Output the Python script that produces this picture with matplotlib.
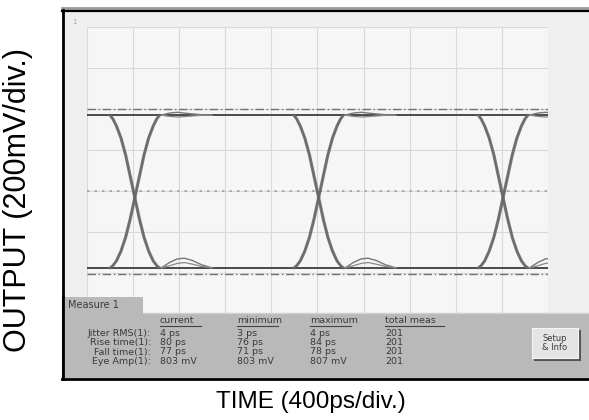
import matplotlib.pyplot as plt
from matplotlib.patches import Rectangle

# scope settings (ps / mV)
t_max = 4000
t_div = 400
v_max = 800
v_div = 200

# levels
high_level = 370
low_level = -375
high_marker = 400
low_marker = -405

# eye crossings (ps)
crossings = [415, 2010, 3610]

# falling edge shape around a crossing: time offset (ps) and fraction of swing
edge_dt = [-215, -190, -160, -120, -80, -40, 0, 40, 80, 120, 160, 190, 215]
edge_frac = [1.0, 0.975, 0.93, 0.85, 0.74, 0.60, 0.46, 0.32, 0.20, 0.11, 0.045, 0.015, 0.0]

# ringing after an edge, offsets from crossing (ps) and height (mV)
ring_dt = [230, 300, 370, 430, 500, 580, 670]
ring_low_a = [0, 26, 44, 47, 36, 15, 0]
ring_low_b = [0, 10, 22, 26, 18, 7, 0]
ring_high_a = [0, 10, 14, 10, 6, 2, 0]
ring_high_b = [0, -6, -9, -7, -4, -1, 0]

# measurement panel
col_heads = ['current', 'minimum', 'maximum', 'total meas']
row_names = ['Jitter RMS(1):', 'Rise time(1):', 'Fall time(1):', 'Eye Amp(1):']
row_values = [
    ['4 ps', '3 ps', '4 ps', '201'],
    ['80 ps', '76 ps', '84 ps', '201'],
    ['77 ps', '71 ps', '78 ps', '201'],
    ['803 mV', '803 mV', '807 mV', '201'],
]

W, H = 589, 420
fig = plt.figure(figsize=(W / 100, H / 100), dpi=100)
fig.patch.set_facecolor('white')

# background / frame layer in pixel units
bg = fig.add_axes([0, 0, 1, 1], zorder=0)
bg.set_xlim(0, W)
bg.set_ylim(H, 0)
bg.axis('off')
bg.add_patch(Rectangle((62, 10), W - 62, 368, facecolor='#efefef', edgecolor='none'))
bg.plot([62, W], [8, 8], color='#999999', lw=2)
bg.plot([62, W], [10.5, 10.5], color='black', lw=1.6)
bg.plot([62.5, 62.5], [10, 379], color='black', lw=2)
bg.text(72, 22, '1', fontsize=5, color='#aaaaaa', ha='left', va='center')

# scope screen
ax = fig.add_axes([87 / W, (H - 355) / H, 461 / W, 328 / H], zorder=1)
ax.set_facecolor('#f6f6f6')
ax.set_xlim(0, t_max)
ax.set_ylim(-v_max, v_max)
ax.set_xticks(range(0, t_max + 1, t_div))
ax.set_yticks(range(-v_max, v_max + 1, v_div))
ax.grid(True, color='#d9d9d9', lw=0.8)
ax.tick_params(length=0, labelbottom=False, labelleft=False)
for s in ax.spines.values():
    s.set_visible(False)
ax.axhline(0, color='#a0a0a0', lw=1.2, ls=(0, (1.5, 3)))

trace = '#666666'
swing = high_level - low_level

# flat levels and markers
ax.axhline(high_level, color='#4a4a4a', lw=1.4)
ax.axhline(low_level, color='#4a4a4a', lw=1.4)
ax.axhline(high_marker, color='#707070', lw=1.0, ls=(0, (6, 2, 1, 2)))
ax.axhline(low_marker, color='#707070', lw=1.0, ls=(0, (6, 2, 1, 2)))

fall_y = [low_level + f * swing for f in edge_frac]
for c in crossings:
    for off in (-4, 4):
        ax.plot([c + d + off for d in edge_dt], fall_y, color=trace, lw=1.6, alpha=0.85)
        ax.plot([c - d + off for d in edge_dt], fall_y, color=trace, lw=1.6, alpha=0.85)
    rx = [c + d for d in ring_dt]
    ax.plot(rx, [low_level + v for v in ring_low_a], color='#777777', lw=1.0)
    ax.plot(rx, [low_level + v for v in ring_low_b], color='#888888', lw=0.9)
    ax.plot(rx, [high_level + v for v in ring_high_a], color='#777777', lw=1.0)
    ax.plot(rx, [high_level + v for v in ring_high_b], color='#888888', lw=0.9)

# measurement panel on top
fg = fig.add_axes([0, 0, 1, 1], zorder=3)
fg.patch.set_alpha(0)
fg.set_xlim(0, W)
fg.set_ylim(H, 0)
fg.axis('off')
panel = '#b9b9b9'
txt = '#3a3a3a'
fg.add_patch(Rectangle((63, 297), 80, 17, facecolor=panel, edgecolor='none'))
fg.add_patch(Rectangle((63, 313), W - 63, 65, facecolor=panel, edgecolor='none'))
fg.plot([143, W], [313, 313], color='#d0d0d0', lw=1)
fg.plot([62, W], [378.5, 378.5], color='black', lw=2)
fg.plot([62.5, 62.5], [296, 379], color='black', lw=2)
fg.text(68, 305, 'Measure 1', fontsize=7, color=txt, va='center')

col_x = [160, 237, 310, 385]
row_y = [333, 342.5, 352, 361.5]
for x, h in zip(col_x, col_heads):
    fg.text(x, 320.5, h, fontsize=6.8, color=txt, va='center')
    fg.plot([x, x + 5.9 * len(h)], [325.5, 325.5], color='#444444', lw=0.8)
for y, name, vals in zip(row_y, row_names, row_values):
    fg.text(151, y, name, fontsize=6.8, color=txt, va='center', ha='right')
    for x, v in zip(col_x, vals):
        fg.text(x, y, v, fontsize=6.8, color=txt, va='center')

# Setup & Info button
fg.add_patch(Rectangle((534, 330), 47, 31, facecolor='#555555', edgecolor='none'))
fg.add_patch(Rectangle((532, 328), 46, 30, facecolor='#e4e4e4', edgecolor='#f4f4f4', lw=0.8))
fg.text(555, 343, 'Setup\n& Info', fontsize=6, color=txt, ha='center', va='center',
        linespacing=1.1)

# axis captions
fig.text(18 / W, 1 - 200 / H, 'OUTPUT (200mV/div.)', rotation=90, ha='center', va='center',
         fontsize=22, family='Liberation Sans')
fig.text(311 / W, 1 - 402 / H, 'TIME (400ps/div.)', ha='center', va='center',
         fontsize=17.5, family='Liberation Sans')

fig.savefig('out.png', dpi=100, facecolor='white')
